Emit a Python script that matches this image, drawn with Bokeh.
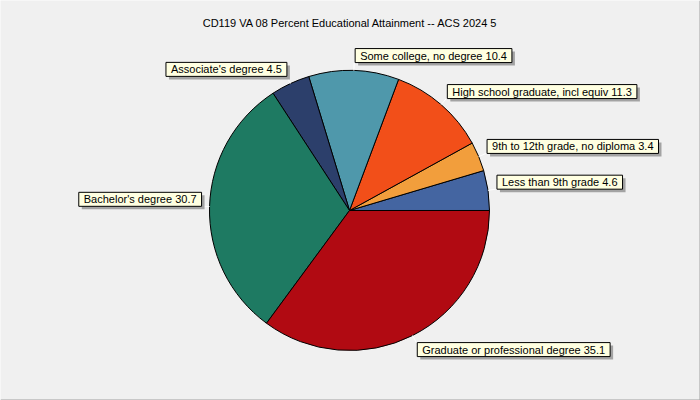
import math
from bokeh.plotting import figure
from bokeh.models import Range1d, Label
from bokeh.embed import file_html
from bokeh.resources import INLINE

title_text = "CD119 VA 08 Percent Educational Attainment -- ACS 2024 5"
categories = [
    "Less than 9th grade",
    "9th to 12th grade, no diploma",
    "High school graduate, incl equiv",
    "Some college, no degree",
    "Associate's degree",
    "Bachelor's degree",
    "Graduate or professional degree",
]
values = [4.6, 3.4, 11.3, 10.4, 4.5, 30.7, 35.1]
colors = ["#4465a1", "#f29e3c", "#f24f19", "#4f98ab", "#2c3f6b", "#1e7a62", "#b10a12"]

W, H = 700, 400
BG = "#f0f0f0"
CX, CY = 349, H - 210
R = 140
R_LEAD = 148
FONT = "Liberation Sans"

p = figure(width=W, height=H, x_range=Range1d(0, W), y_range=Range1d(0, H),
           output_backend="svg", toolbar_location=None, min_border=0,
           background_fill_color=BG, border_fill_color=BG)
p.axis.visible = False
p.grid.visible = False
p.outline_line_color = None

total = sum(values)
starts, ends = [], []
acc = 0.0
for v in values:
    starts.append(acc / total * 2 * math.pi)
    acc += v
    ends.append(acc / total * 2 * math.pi)

p.wedge(x=[CX] * len(values), y=[CY] * len(values), radius=R,
        start_angle=starts, end_angle=ends, fill_color=colors,
        line_color="black", line_width=1)

# leader lines and labels
x0s, y0s, x1s, y1s = [], [], [], []
for cat, v, a0, a1 in zip(categories, values, starts, ends):
    mid = (a0 + a1) / 2
    c, s = math.cos(mid), math.sin(mid)
    x0s.append(CX + R * c); y0s.append(CY + R * s)
    px, py = CX + R_LEAD * c, CY + R_LEAD * s
    x1s.append(px); y1s.append(py)
    align = "left" if c >= 0 else "right"
    base = "bottom" if s > 0 else "top"
    xo = 1 if c >= 0 else 0
    txt = f"{cat} {v}"
    common = dict(x=px, y=py, text=txt, text_align=align, text_baseline=base,
                  text_font=FONT, text_font_size="11px", padding=(5, 1))
    shadow = Label(x_offset=xo + 3, y_offset=-3, text_color="#a3a3a3",
                   background_fill_color="#a3a3a3", background_fill_alpha=1.0,
                   **common)
    lab = Label(x_offset=xo, y_offset=0, text_color="black",
                background_fill_color="#ffffe1", border_line_color="black",
                border_line_width=1, **common)
    p.add_layout(shadow)
    p.add_layout(lab)

p.segment(x0=x0s, y0=y0s, x1=x1s, y1=y1s, line_color="white", line_width=1)

p.add_layout(Label(x=W / 2, y=H - 22, text=title_text, text_align="center",
                   text_baseline="middle", text_font=FONT, text_font_size="11px",
                   text_color="black"))

# window border (right / bottom)
p.segment(x0=[W - 0.5, 0], y0=[0, 0.5], x1=[W - 0.5, W], y1=[H, 0.5],
          line_color="#a0a0a0", line_width=1)

open("out.html", "w").write(file_html(p, INLINE))
